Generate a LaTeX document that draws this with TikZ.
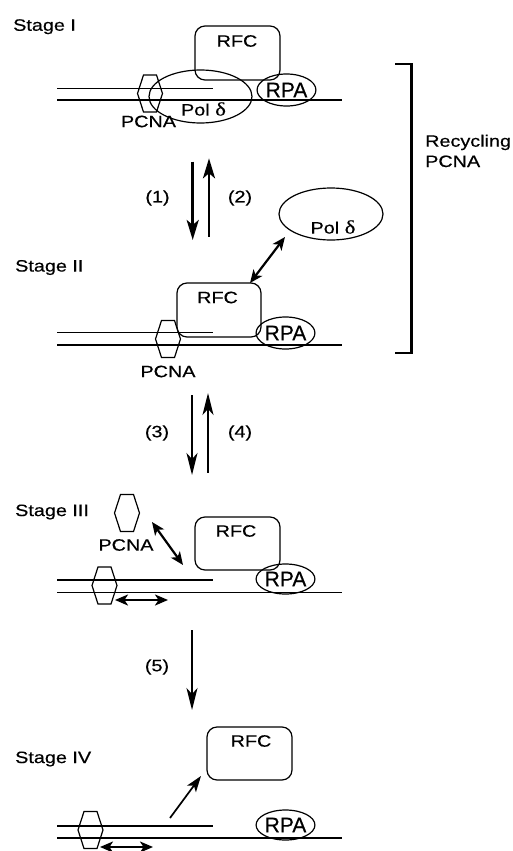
\documentclass[tikz,border=0pt]{standalone}
\usepackage{graphicx}
\usepackage{fontspec}
\setmainfont{Liberation Sans}[FakeBold=0.4]
\newfontfamily\grkf{Liberation Serif}[FakeBold=0.4]
\usetikzlibrary{arrows.meta,shapes.geometric}
\newcommand\sx[1]{\scalebox{1.2}[1]{#1}}
\newcommand\poltext{\sx{Pol {\grkf\fontsize{19}{20}\selectfont δ}}}
\begin{document}
\begin{tikzpicture}[x=1pt,y=-1pt,
  thinline/.style={line width=1.2pt},
  lbl/.style={inner sep=0pt, font=\fontsize{16.5}{19}\selectfont},
  rfcbox/.style={draw, line width=1.2pt, rounded corners=10pt, minimum width=85pt, minimum height=54pt, inner sep=0pt},
  rpabox/.style={draw, ellipse, line width=1.2pt, minimum width=55pt, minimum height=32pt, inner sep=0pt, font=\fontsize{21}{24}\selectfont},
  polbox/.style={draw, ellipse, line width=1.2pt, minimum width=103pt, minimum height=53pt, inner sep=0pt},
  bigarrow/.style={line width=2.8pt, -{Stealth[length=20pt,width=12pt,inset=5pt]}},
  slimarrow/.style={line width=1.7pt, -{Stealth[length=22pt,width=11pt,inset=6pt]}},
  duoarrow/.style={line width=2.2pt, {Stealth[length=13pt,width=11pt,inset=3.5pt]}-{Stealth[length=13pt,width=11pt,inset=3.5pt]}},
  hexa/.pic={\draw[thinline] (-12.5,0)--(-6.5,-18.5)--(6.5,-18.5)--(12.5,0)--(6.5,18.5)--(-6.5,18.5)--cycle;}
]
\useasboundingbox (0,0) rectangle (512,851);

% ---------- Stage I ----------
\node[lbl, anchor=west] (s1) at (13,26.7) {\sx{Stage I}};
\draw[thinline] (57,88.3) -- (213,88.3);
\draw[thinline] (57,100) -- (342,100);
\pic at (150,93.5) {hexa};
\node[polbox] (pol1) at (200.5,96.5) {};
\node[lbl] (pol1t) at (203.5,109) {\poltext};
\node[rfcbox] (rfc1) at (237.5,53) {};
\node[lbl] (rfc1t) at (237,41) {\sx{RFC}};
\node[rpabox] (rpa1) at (286.5,90) {RPA};
\node[lbl] (pcna1) at (148.5,121.5) {\sx{PCNA}};

% arrows (1) (2)
\coordinate (a1s) at (192.7,161.7);
\coordinate (a1e) at (192.7,240);
\coordinate (a2s) at (209,236.7);
\coordinate (a2e) at (209,158.3);
\draw[bigarrow] (a1s) -- (a1e);
\draw[bigarrow] (a2s) -- (a2e);
\node[lbl] (l1) at (157.5,198) {\sx{(1)}};
\node[lbl] (l2) at (240,198) {\sx{(2)}};

% free Pol delta
\node[polbox, minimum width=104pt, minimum height=52pt] (pol2) at (331,214) {};
\node[lbl] (pol2t) at (333,227) {\poltext};

% bracket
\coordinate (b1) at (395,64);
\coordinate (b2) at (411.7,64);
\coordinate (b3) at (411.7,353);
\coordinate (b4) at (395,353);
\draw[line width=2.5pt] (b1) -- (b2) -- (b3) -- (b4);
\node[lbl, anchor=base west] (rec1) at (425,146.7) {\sx{Recycling}};
\node[lbl, anchor=base west] (rec2) at (425,167) {\sx{PCNA}};

% ---------- Stage II ----------
\node[lbl, anchor=west] (s2) at (15,267.5) {\sx{Stage II}};
\draw[thinline] (57,332.3) -- (213,332.3);
\draw[thinline] (57,345) -- (342,345);
\pic at (168,339) {hexa};
\node[lbl] (pcna2) at (168,371.5) {\sx{PCNA}};
\node[rfcbox, minimum width=84pt] (rfc2) at (219,310) {};
\node[lbl] (rfc2t) at (217.5,297.5) {\sx{RFC}};
\node[rpabox] (rpa2) at (285.5,333) {RPA};
\coordinate (d1) at (250,283);
\coordinate (d2) at (285,237);
\draw[duoarrow] (d1) -- (d2);

% arrows (3) (4)
\coordinate (a3s) at (192,395);
\coordinate (a3e) at (192,475);
\coordinate (a4s) at (208,472.7);
\coordinate (a4e) at (208,393);
\draw[slimarrow] (a3s) -- (a3e);
\draw[slimarrow] (a4s) -- (a4e);
\node[lbl] (l3) at (157,433) {\sx{(3)}};
\node[lbl] (l4) at (240,433) {\sx{(4)}};

% ---------- Stage III ----------
\node[lbl, anchor=west] (s3) at (15,512) {\sx{Stage III}};
\pic at (127,513) {hexa};
\node[lbl] (pcna3) at (126,545) {\sx{PCNA}};
\coordinate (e1) at (152,522);
\coordinate (e2) at (183,565);
\draw[duoarrow] (e1) -- (e2);
\node[rfcbox, minimum height=53pt] (rfc3) at (237.5,543.5) {};
\node[lbl] (rfc3t) at (236,531) {\sx{RFC}};
\draw[thinline] (57,580) -- (213,580);
\draw[thinline] (57,592.7) -- (342,592.7);
\node[rpabox, minimum height=30pt] (rpa3) at (285.5,579) {RPA};
\pic at (104.5,585.5) {hexa};
\coordinate (f1) at (115,600);
\coordinate (f2) at (168,600);
\draw[duoarrow] (f1) -- (f2);

% arrow (5)
\coordinate (a5s) at (192,630);
\coordinate (a5e) at (192,710);
\draw[slimarrow] (a5s) -- (a5e);
\node[lbl] (l5) at (157,667) {\sx{(5)}};

% ---------- Stage IV ----------
\node[lbl, anchor=west] (s4) at (15,759) {\sx{Stage IV}};
\node[rfcbox, minimum height=53pt] (rfc4) at (249.5,753.5) {};
\node[lbl] (rfc4t) at (251,741) {\sx{RFC}};
\coordinate (g1) at (170,818);
\coordinate (g2) at (201,776);
\draw[line width=1.7pt, -{Stealth[length=16pt,width=11pt,inset=4pt]}] (g1) -- (g2);
\draw[thinline] (57,826) -- (213,826);
\draw[thinline] (57,838) -- (342,838);
\pic at (90.5,830) {hexa};
\node[rpabox, minimum height=30pt] (rpa4) at (285.5,825) {RPA};
\coordinate (h1) at (100,847);
\coordinate (h2) at (153,847);
\draw[duoarrow] (h1) -- (h2);
\end{tikzpicture}
\end{document}
